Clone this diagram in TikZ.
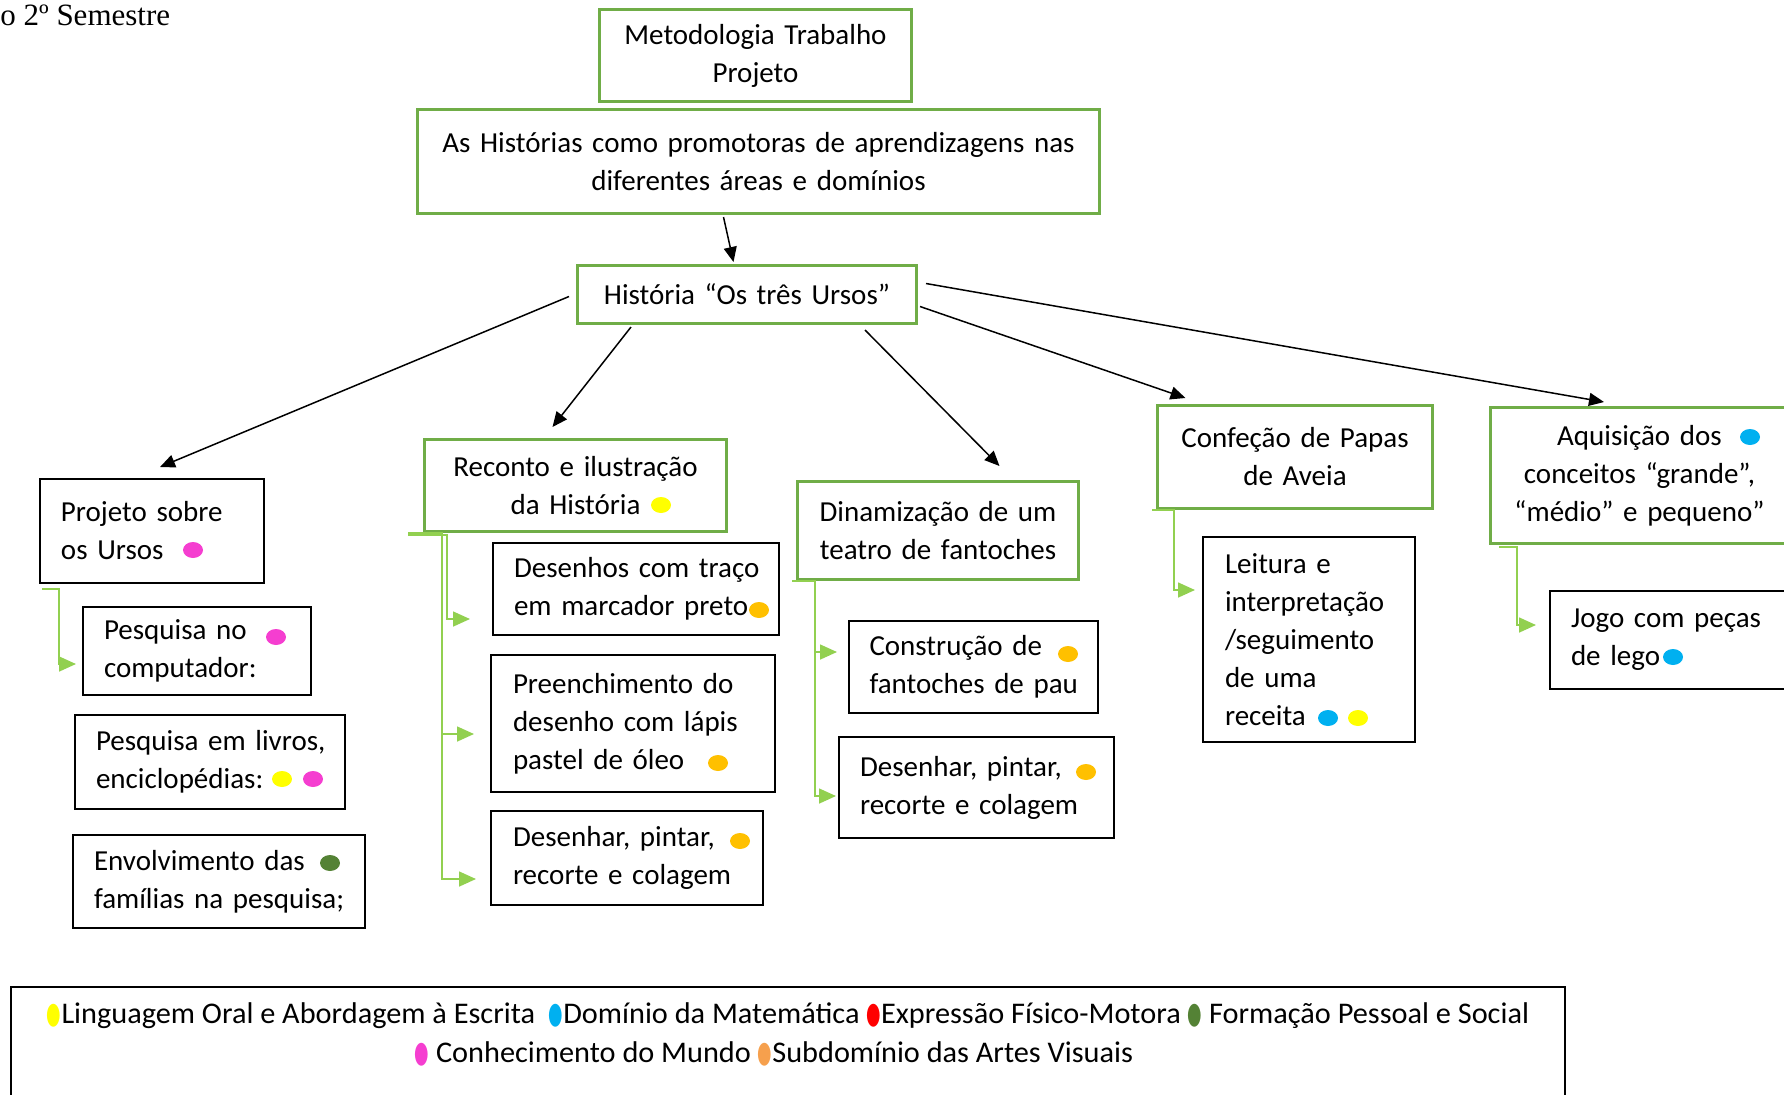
\documentclass[tikz,border=0pt]{standalone}
\usepackage{fontspec}
\setmainfont{Carlito}
\newfontfamily\dejavu{DejaVu Sans}
\newfontfamily\timesf{Liberation Serif}
\usepackage{graphicx}
\usetikzlibrary{arrows.meta}
\definecolor{boxgreen}{HTML}{70AD47}
\definecolor{lgreen}{HTML}{92D050}
\definecolor{dpink}{HTML}{F53ED0}
\definecolor{dyellow}{HTML}{FFFF00}
\definecolor{dorange}{HTML}{FFC000}
\definecolor{dblue}{HTML}{00B0F0}
\definecolor{dgreen}{HTML}{548235}
\definecolor{lred}{HTML}{FF0000}
\definecolor{lorange}{HTML}{F6A04D}
\newcommand\legdot[1]{\textcolor{#1}{\scalebox{0.55}[1]{\dejavu ●}}}
\newcommand\ol[1]{\mbox{#1}}
\begin{document}
\begin{tikzpicture}[x=0.5pt,y=-0.5pt,
  txt/.style={font=\fontsize{14.5pt}{19pt}\selectfont, inner sep=0pt, anchor=north west},
  gbox/.style={txt, draw=boxgreen, line width=1.5pt, align=center},
  bbox/.style={txt, draw=black, line width=1pt, align=left},
  arr/.style={draw=black, line width=0.75pt, -{Triangle[length=7.5pt,width=6.5pt]}},
  gline/.style={draw=lgreen, line width=0.8pt, -{Triangle[length=8.5pt,width=7.5pt]}},
  dot/.style={x radius=10, y radius=8}
]
\useasboundingbox (0,0) rectangle (1784,1094);

\node[anchor=base west, inner sep=0pt, font=\timesf\fontsize{15.5pt}{18pt}\selectfont] (sem) at (0,25) {o 2º Semestre};

\node[gbox, minimum width=156pt, minimum height=46pt, text width=140pt] (meth) at (598,8) {\ol{Metodologia Trabalho}\\Projeto};
\node[gbox, minimum width=341pt, minimum height=52pt, text width=335pt] (hist0) at (416,108) {\ol{As Histórias como promotoras de aprendizagens nas}\\\ol{diferentes áreas e domínios}};
\node[gbox, minimum width=169.5pt, minimum height=29pt, text width=160pt] (hist) at (576,264) {\ol{História “Os três Ursos”}};

\node[bbox, minimum width=112pt, minimum height=52pt, text width=91pt] (proj) at (39,478) {\ol{Projeto sobre}\\\ol{os Ursos}};
\node[bbox, minimum width=114pt, minimum height=44pt, text width=93pt] (pc) at (82,606) {\ol{Pesquisa no}\\\ol{computador:}};
\node[bbox, minimum width=135pt, minimum height=47pt, text width=114pt] (livros) at (74,714) {\ol{Pesquisa em livros,}\\\ol{enciclopédias:}};
\node[bbox, minimum width=146pt, minimum height=46.5pt, text width=125pt] (fam) at (72,834) {\ol{Envolvimento das}\\\ol{famílias na pesquisa;}};

\node[gbox, minimum width=151pt, minimum height=46pt, text width=140pt] (reconto) at (423,438) {\ol{Reconto e ilustração}\\\ol{da História}};
\node[bbox, minimum width=143pt, minimum height=46pt, text width=122pt] (desenhos) at (492,542) {\ol{Desenhos com traço}\\\ol{em marcador preto}};
\node[bbox, minimum width=142pt, minimum height=68.5pt, text width=120pt] (preench) at (490,654) {\ol{Preenchimento do}\\\ol{desenho com lápis}\\\ol{pastel de óleo}};
\node[bbox, minimum width=136pt, minimum height=47pt, text width=114pt] (desenharA) at (490,810) {\ol{Desenhar, pintar,}\\\ol{recorte e colagem}};

\node[gbox, minimum width=140.5pt, minimum height=49pt, text width=130pt] (dinam) at (796,480) {\ol{Dinamização de um}\\\ol{teatro de fantoches}};
\node[bbox, minimum width=124.5pt, minimum height=46pt, text width=104pt] (constr) at (848,620) {\ol{Construção de}\\\ol{fantoches de pau}};
\node[bbox, minimum width=137.5pt, minimum height=50.5pt, text width=116.5pt] (desenharB) at (838,736) {\ol{Desenhar, pintar,}\\\ol{recorte e colagem}};

\node[gbox, minimum width=137.5pt, minimum height=51.5pt, text width=128pt] (papas) at (1156,404) {\ol{Confeção de Papas}\\\ol{de Aveia}};
\node[bbox, minimum width=106pt, minimum height=102.5pt, text width=84pt] (leitura) at (1202,536) {\ol{Leitura e}\\\ol{interpretação}\\\ol{/seguimento}\\\ol{de uma}\\\ol{receita}};

\node[gbox, minimum width=149pt, minimum height=68pt, text width=140pt] (aquis) at (1489,406) {\ol{Aquisição dos}\\\ol{conceitos “grande”,}\\\ol{“médio” e pequeno”}};
\node[bbox, minimum width=130pt, minimum height=49pt, text width=109pt] (lego) at (1549,590) {\ol{Jogo com peças}\\\ol{de lego}};

% dots
\fill[dpink] (193,550) ellipse [dot];
\fill[dpink] (276,637) ellipse [dot];
\fill[dyellow] (282,779) ellipse [dot];
\fill[dpink] (313,779) ellipse [dot];
\fill[dgreen] (330,863) ellipse [dot];
\fill[dyellow] (661,505) ellipse [dot];
\fill[dorange] (759,610) ellipse [dot];
\fill[dorange] (718,763) ellipse [dot];
\fill[dorange] (740,841) ellipse [dot];
\fill[dorange] (1068,654) ellipse [dot];
\fill[dorange] (1086,772) ellipse [dot];
\fill[dblue] (1328,718) ellipse [dot];
\fill[dyellow] (1358,718) ellipse [dot];
\fill[dblue] (1750,437) ellipse [dot];
\fill[dblue] (1673,657) ellipse [dot];

% black arrows
\draw[arr] ([shift={(-35,2)}]hist0.south) -- ([shift={(-13.5,-2)}]hist.north);
\draw[arr] ([shift={(-7,2)}]hist.west) -- ([shift={(8,-11)}]proj.north);
\draw[arr] ([shift={(55,2)}]hist.south west) -- ([shift={(-23,-11)}]reconto.north);
\draw[arr] ([shift={(-53,5)}]hist.south east) -- ([shift={(61.5,-14)}]dinam.north);
\draw[arr] ([shift={(2,12)}]hist.east) -- ([shift={(-109.5,-6)}]papas.north);
\draw[arr] ([shift={(8,-11)}]hist.east) -- ([shift={(115,-4)}]aquis.north west);

% green connectors
\draw[gline] ([shift={(3,5)}]proj.south west) -| ([shift={(-23,13)}]pc.west) -- ([shift={(-6,13)}]pc.west);
\draw[gline] ([shift={(-15,2)}]reconto.south west) -| ([shift={(-45,30)}]desenhos.west) -- ([shift={(-22,30)}]desenhos.west);
\draw[gline] ([shift={(-15,0)}]reconto.south west) -| ([shift={(-48,10.5)}]preench.west) -- ([shift={(-16,10.5)}]preench.west);
\draw[gline] ([shift={(-15,0)}]reconto.south west) -| ([shift={(-48,21)}]desenharA.west) -- ([shift={(-14,21)}]desenharA.west);
\draw[gline] ([shift={(-4,0)}]dinam.south west) -| ([shift={(-33,-15)}]constr.west) -- ([shift={(-11,-15)}]constr.west);
\draw[gline] ([shift={(-4,0)}]dinam.south west) -| ([shift={(-23,8.5)}]desenharB.west) -- ([shift={(-2,8.5)}]desenharB.west);
\draw[gline] ([shift={(-4,0)}]papas.south west) -| ([shift={(-28,-49.5)}]leitura.west) -- ([shift={(-7,-49.5)}]leitura.west);
\draw[gline] ([shift={(10,2)}]aquis.south west) -| ([shift={(-32,-15)}]lego.west) -- ([shift={(-13,-15)}]lego.west);

% legend
\draw[line width=0.9pt] (11,1130) -- (11,987) -- (1565,987) -- (1565,1130);
\node[inner sep=0pt, font=\fontsize{15pt}{19.5pt}\selectfont] (legtxt) at (788,1035) {\resizebox{741pt}{\height}{\begin{tabular}{@{}c@{}}\legdot{dyellow}Linguagem Oral e Abordagem à Escrita\ \ \legdot{dblue}Domínio da Matemática \legdot{lred}Expressão Físico-Motora \legdot{dgreen} Formação Pessoal e Social\\ \legdot{dpink} Conhecimento do Mundo \legdot{lorange}Subdomínio das Artes Visuais\hspace*{14pt}\end{tabular}}};
\end{tikzpicture}
\end{document}
